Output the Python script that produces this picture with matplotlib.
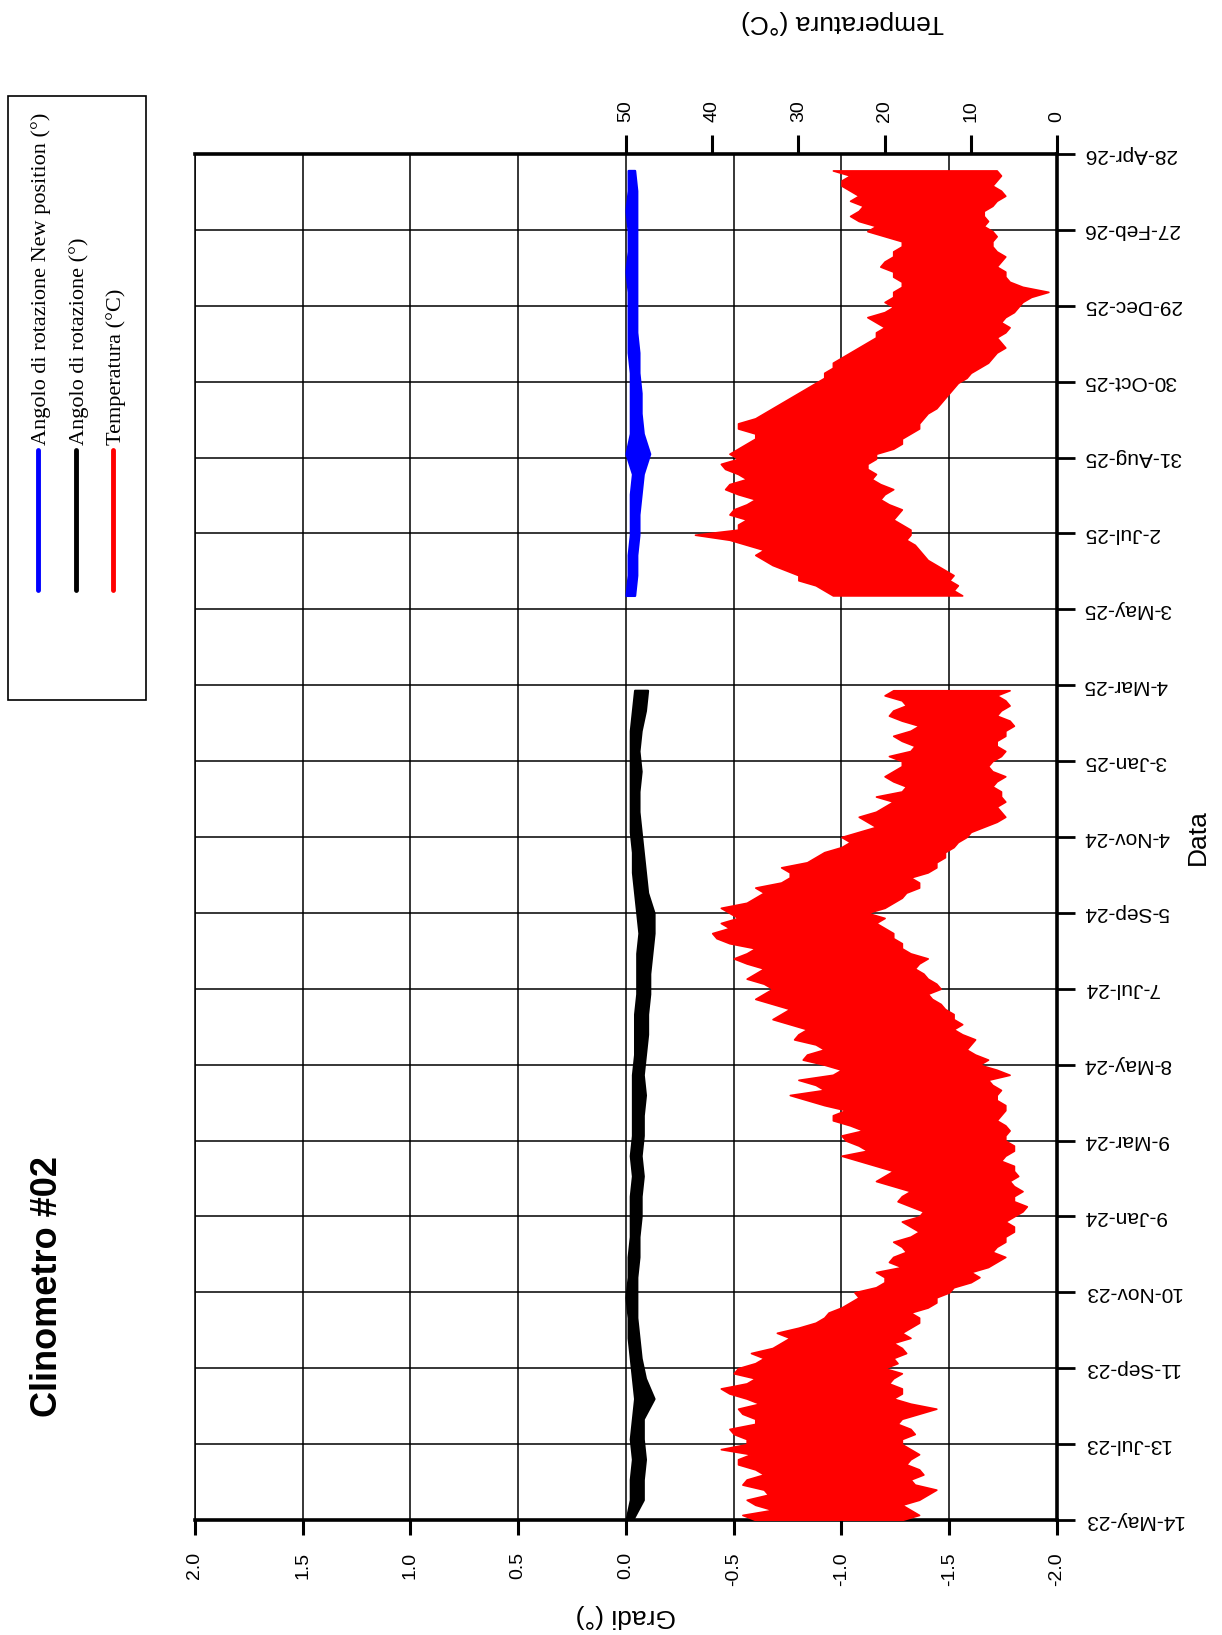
import matplotlib
matplotlib.use('Agg')
import matplotlib.pyplot as plt
from matplotlib.lines import Line2D
from matplotlib.patches import Rectangle
import pandas as pd

plt.rcParams['font.family'] = ['Liberation Sans', 'DejaVu Sans']
plt.rcParams['axes.unicode_minus'] = False

# ---------------- data ----------------
title = "Clinometro #02"
x_label = "Data"
angle_label = "Gradi (°)"
temp_label = "Temperatura (°C)"
legend_labels = ["Angolo di rotazione New position (°)",
                 "Angolo di rotazione (°)",
                 "Temperatura (°C)"]

date_ticks = ['2023-05-14', '2023-07-13', '2023-09-11', '2023-11-10', '2024-01-09',
              '2024-03-09', '2024-05-08', '2024-07-07', '2024-09-05', '2024-11-04',
              '2025-01-03', '2025-03-04', '2025-05-03', '2025-07-02', '2025-08-31',
              '2025-10-30', '2025-12-29', '2026-02-27', '2026-04-28']
angle_ticks = [2.0, 1.5, 1.0, 0.5, 0.0, -0.5, -1.0, -1.5, -2.0]
temp_ticks = [0, 10, 20, 30, 40, 50]

# temperature, first installation (every 4 days from 14-May-23): daily max / min
temp1_start = '2023-05-14'
temp1_max = [35, 36.5, 33, 35, 36, 33.5, 34, 36.5, 36, 34,
             35, 37, 37, 35.5, 39, 36, 36, 37.5, 38, 35,
             35, 36.5, 37, 34.5, 36, 38, 39, 36, 35, 37.5,
             37, 35, 34, 35.5, 33, 32, 31, 32.5, 30, 28,
             27, 26.5, 25, 24, 23, 23.5, 21, 20, 20, 21,
             18, 19.5, 19, 17.5, 18, 19, 17, 16, 17, 18,
             16, 15.5, 17, 18.5, 18, 17, 19, 21, 20, 19,
             21, 23, 25, 22, 23, 24.5, 25, 22.5, 24, 26,
             26, 24.5, 27, 29, 31, 27, 28, 30, 26, 25,
             27, 29.5, 29, 27, 28, 30.5, 30, 29, 31, 33,
             32, 31, 33, 35, 34, 33, 34, 36, 35, 34,
             36, 37.5, 36, 35, 38, 39.5, 40, 38, 39, 37,
             38, 39, 36, 35, 34, 35, 32, 31, 31, 32,
             29, 28, 27, 25, 24, 25, 23, 21, 22, 23,
             21, 20, 19, 21, 18, 17.5, 19, 20, 19, 18,
             18, 19.5, 17, 16.5, 18, 19, 17, 16, 18, 19.5,
             19, 17.5, 18, 20, 19]
temp1_min = [18, 16, 17, 18, 16, 15, 14, 16.5, 17, 15.5,
             16, 17.5, 17, 16, 17, 18, 18, 16.5, 17, 18.5,
             18, 16, 14, 17, 19, 18, 18, 19.5, 19, 18,
             20, 18.5, 19, 17.5, 18, 19, 17, 18, 17, 16,
             16, 17, 15, 14, 14, 12.5, 12, 10, 9, 10,
             8, 7, 6, 7.5, 7, 6, 6, 5, 5, 6,
             5, 4, 3.5, 5, 5, 4, 5, 5.5, 4.5, 5,
             5, 6.5, 6, 5, 5, 6, 6, 5.5, 6, 7,
             6.5, 6, 6, 7, 7, 6.5, 7.5, 8, 5.5, 7,
             9, 8, 9.5, 10.5, 10, 9.5, 11, 12, 11, 12,
             12, 13, 13.5, 14.5, 15, 13.5, 14, 15, 15.5, 16.5,
             16, 15, 17, 18, 18, 19, 19, 20, 21, 20,
             22, 20, 19, 18, 17.5, 16, 16, 17, 15, 14,
             14, 13, 13, 12, 11.5, 10.5, 10, 8.5, 7, 6,
             6.5, 7, 6, 6.5, 6.5, 7.5, 7, 6, 7.5, 8,
             7.5, 6.5, 6, 7, 7, 6, 6, 5, 5.5, 7,
             6.5, 5.5, 6, 7, 5.5]

# temperature, new position (every 4 days from 14-May-25)
temp2_start = '2025-05-14'
temp2_max = [26, 27, 28, 30, 30, 31.5, 33, 34, 35, 34,
             36, 38, 42, 37, 37, 36, 38, 37.5, 36, 35,
             37, 38.5, 38, 36, 37, 38.5, 39, 37, 38, 37,
             36, 35, 35, 37, 37, 35, 34, 33, 32, 31,
             30, 29, 28, 27, 27, 26, 26, 25, 24, 23,
             22, 21, 21, 20, 21, 22, 20, 19, 20, 19,
             19, 18, 18, 19, 19, 20.5, 20, 19, 19, 18,
             18, 20, 22, 21, 23, 24, 23, 22.5, 24, 23,
             24, 25, 25, 24, 26]
temp2_min = [11, 12, 11.5, 12.5, 12, 13, 14, 15, 15.5, 16,
             16.5, 17.5, 17, 17, 18, 19, 18.5, 18, 19.5, 20.5,
             20, 19, 20.5, 21.5, 21, 22, 22, 21, 21, 19,
             18, 18, 17, 16, 16, 15.5, 15, 14, 13.5, 13,
             12.5, 12, 11.5, 10.5, 10, 9, 8, 7.5, 7, 6,
             6.5, 7, 6, 5.5, 6.5, 6, 5, 4.5, 4, 3,
             1, 4, 5.5, 6, 6, 7, 6.5, 6, 7, 7.5,
             7.5, 7, 7.5, 8.5, 8, 8.5, 8.5, 7.5, 7, 6,
             6.5, 7.5, 7, 6.5, 7]

# rotation angle, first installation (every 16 days from 14-May-23)
rot_start = '2023-05-14'
rot_max = [0.0, -0.02, -0.02, -0.03, -0.02, -0.03, -0.04, -0.03, -0.02, -0.01,
           -0.01, 0.0, -0.01, -0.01, -0.02, -0.02, -0.02, -0.03, -0.02, -0.03,
           -0.03, -0.03, -0.03, -0.04, -0.04, -0.04, -0.05, -0.05, -0.05, -0.06,
           -0.05, -0.04, -0.03, -0.03, -0.02, -0.02, -0.02, -0.02, -0.02, -0.02,
           -0.03, -0.04]
rot_min = [-0.03, -0.08, -0.08, -0.09, -0.08, -0.08, -0.13, -0.09, -0.07, -0.06,
           -0.05, -0.05, -0.05, -0.06, -0.06, -0.07, -0.07, -0.08, -0.07, -0.08,
           -0.08, -0.09, -0.08, -0.09, -0.10, -0.10, -0.11, -0.11, -0.12, -0.13,
           -0.13, -0.10, -0.09, -0.08, -0.07, -0.06, -0.06, -0.07, -0.06, -0.07,
           -0.09, -0.10]

# rotation angle, new position (every 16 days from 14-May-25)
rotnew_start = '2025-05-14'
rotnew_max = [0.0, -0.01, -0.01, -0.02, -0.02, -0.02, -0.03, 0.0, -0.02, -0.02,
              -0.02, -0.02, -0.01, -0.01, -0.01, -0.01, 0.0, -0.01, -0.01, 0.0,
              -0.01, -0.01]
rotnew_min = [-0.04, -0.05, -0.05, -0.06, -0.06, -0.07, -0.08, -0.11, -0.08, -0.07,
              -0.07, -0.06, -0.06, -0.05, -0.05, -0.05, -0.05, -0.05, -0.05, -0.05,
              -0.05, -0.04]

# ---------------- figure ----------------
W, H = 1222, 1635
fig = plt.figure(figsize=(W / 100, H / 100), dpi=100)
fig.patch.set_facecolor('white')

L, R, T, B = 195, 1057, 154, 1520
ax = fig.add_axes([L / W, 1 - B / H, (R - L) / W, (B - T) / H])

tick_dates = pd.to_datetime(date_ticks)
tick_labels = [f"{d.day}-{d:%b}-{d:%y}" for d in tick_dates]

d_t1 = pd.date_range(temp1_start, periods=len(temp1_max), freq='4D')
d_t2 = pd.date_range(temp2_start, periods=len(temp2_max), freq='4D')
d_r1 = pd.date_range(rot_start, periods=len(rot_max), freq='16D')
d_r2 = pd.date_range(rotnew_start, periods=len(rotnew_max), freq='16D')

# rotation series (x = degrees, y = date)
ax.fill_betweenx(d_r2, rotnew_min, rotnew_max, color='#0000ff', lw=1.6, zorder=3)
ax.fill_betweenx(d_r1, rot_min, rot_max, color='black', lw=1.6, zorder=3)

ax.set_xlim(2.0, -2.0)
ax.set_ylim(tick_dates[0], tick_dates[-1])
ax.set_xticks(angle_ticks, [f"{v:.1f}" for v in angle_ticks], rotation=90)
ax.set_yticks(tick_dates, tick_labels, rotation=180, va='center', ha='left')
ax.yaxis.tick_right()
ax.tick_params(axis='x', direction='out', length=11, width=2.2, pad=12,
               labelsize=14, bottom=True, top=False)
ax.tick_params(axis='y', direction='out', length=13, width=2.0, pad=6,
               labelsize=15, right=True, left=False, labelright=True, labelleft=False)
ax.grid(True, color='black', lw=1.1)
ax.set_axisbelow(True)
for s in ['bottom', 'right']:
    ax.spines[s].set_linewidth(2.6)
ax.spines['left'].set_linewidth(1.1)
ax.spines['top'].set_visible(False)

# temperature axis on top
ax2 = ax.twiny()
ax2.fill_betweenx(d_t1, temp1_min, temp1_max, color='#ff0000', lw=1.2)
ax2.fill_betweenx(d_t2, temp2_min, temp2_max, color='#ff0000', lw=1.2)
ax2.set_xlim(100, 0)
ax2.set_xticks(temp_ticks, [str(v) for v in temp_ticks], rotation=90)
ax2.tick_params(axis='x', direction='out', length=14, width=2.2, pad=9, labelsize=14)
ax2.spines['top'].set_linewidth(2.6)
for s in ['bottom', 'left', 'right']:
    ax2.spines[s].set_visible(False)
ax2.set_ylim(tick_dates[0], tick_dates[-1])

# axis labels
fig.text(626 / W, 1 - 1616 / H, angle_label, rotation=180, ha='center', va='center', fontsize=19)
fig.text(842 / W, 1 - 22 / H, temp_label, rotation=180, ha='center', va='center', fontsize=19)
fig.text(1198 / W, 1 - 837 / H, x_label, rotation=90, ha='center', va='center', fontsize=19)

# title
fig.text(48 / W, 1 - 1286 / H, title, rotation=90, ha='center', va='center',
         fontsize=26, fontweight='bold')

# legend (rotated, drawn manually)
fig.add_artist(Rectangle((8 / W, 1 - 700 / H), 138 / W, 604 / H, fill=False,
                         ec='black', lw=1.2, transform=fig.transFigure))
leg_colors = ['#0000ff', 'black', '#ff0000']
leg_x = [38, 76, 113]
for lab, c, x in zip(legend_labels, leg_colors, leg_x):
    fig.add_artist(Line2D([x / W, x / W], [1 - 450 / H, 1 - 590 / H], color=c, lw=3.5,
                          solid_capstyle='round', transform=fig.transFigure))
    fig.text((x + 3) / W, 1 - 445 / H, lab, rotation=90, ha='center', va='bottom',
             fontsize=16, family=['Liberation Serif', 'DejaVu Serif'])

fig.savefig('out.png', dpi=100, facecolor='white')
